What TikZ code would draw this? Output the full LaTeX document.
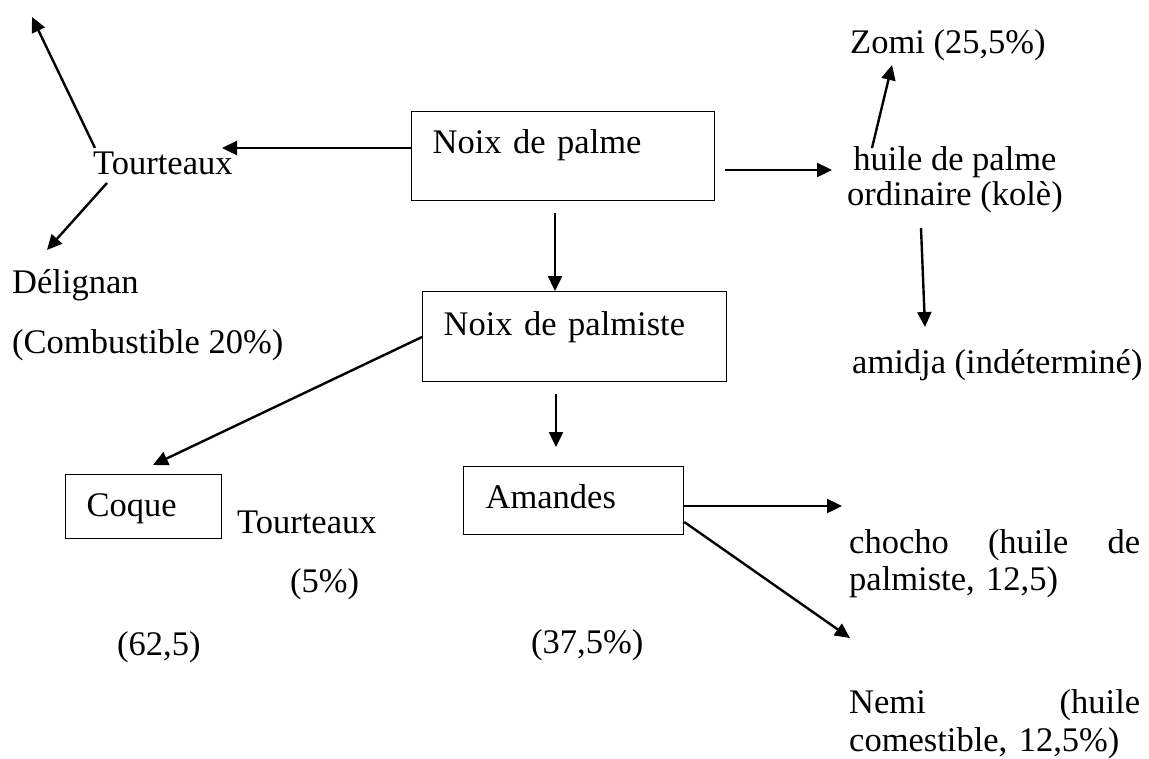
\documentclass[tikz,border=0pt]{standalone}
\usepackage{fontspec}
\setmainfont{Liberation Serif}
\usetikzlibrary{arrows.meta,calc}
\begin{document}
\begin{tikzpicture}[x=1pt,y=-1pt,
  every node/.style={font=\fontsize{34.5}{37}\selectfont},
  txt/.style={inner sep=0pt, anchor=base west},
  boxn/.style={draw, line width=1.3pt, inner ysep=0pt, align=left, anchor=north west},
  arr/.style={line width=2.4pt, -{Triangle[length=15pt,width=14pt]}}]
\useasboundingbox (0,0) rectangle (1149,758);
% boxes
\node[boxn, inner xsep=21pt, text width=261pt, text height=42pt, text depth=47pt] (np) at (411,111) {Noix de palme};
\node[boxn, inner xsep=21pt, text width=262pt, text height=44pt, text depth=46pt] (pm) at (422,291) {Noix de palmiste};
\node[boxn, inner xsep=21pt, text width=114pt, text height=42pt, text depth=22pt] (cq) at (65,474) {Coque};
\node[boxn, inner xsep=22pt, text width=176pt, text height=42pt, text depth=26pt] (am) at (463,466) {Amandes};
% texts
\node[txt] (t1) at (93,174) {Tourteaux};
\node[txt] (del) at (12,293) {Délignan};
\node[txt] (comb) at (12,353) {(Combustible 20\%)};
\node[txt] (zomi) at (850,53) {Zomi (25,5\%)};
\node[inner sep=0pt, anchor=base, align=center, font=\fontsize{34.5}{35}\selectfont] (huile) at (955,205) {huile de palme\\ordinaire (kolè)};
\node[txt] (amidja) at (852,373) {amidja (indéterminé)};
\node[txt] (t2) at (237,533) {Tourteaux};
\node[txt] (p5) at (290,592) {(5\%)};
\node[txt] (p625) at (117,655) {(62,5)};
\node[txt] (p375) at (531,653) {(37,5\%)};
\node[txt, align=left, text width=292pt, font=\fontsize{34.5}{37}\selectfont] (chocho) at (849,553) {\hbox to 291pt{chocho\hfill(huile\hfill de}\\palmiste, 12,5)};
\node[txt, align=left, text width=292pt, font=\fontsize{34.5}{38}\selectfont] (nemi) at (849,713) {\hbox to 291pt{Nemi\hfill(huile}\\comestible, 12,5\%)};
\coordinate (up) at (32,17);
% connectors
\draw[arr] ($(np.north west)+(0,37)$) -- ($(t1.base west)+(129,-26)$);
\draw[arr] ($(t1.base west)+(2,-26)$) -- (up);
\draw[arr] ($(t1.base west)+(14,9)$) -- ($(del.base west)+(35,-43)$);
\draw[arr] ($(np.south west)+(144,12)$) -- ($(pm.north west)+(133,0)$);
\draw[arr] ($(np.north east)+(10,59)$) -- ($(huile.base)+(-123,-35)$);
\draw[arr] ($(huile.base)+(-83,-57)$) -- ($(zomi.base west)+(42,12)$);
\draw[arr] ($(huile.base)+(-34,23)$) -- ($(amidja.base west)+(73,-46)$);
\draw[arr] ($(pm.north west)+(0,46)$) -- ($(cq.north west)+(88,-9)$);
\draw[arr] ($(pm.south west)+(134,12)$) -- ($(am.north west)+(93,-19)$);
\draw[arr] ($(am.north east)+(0,40)$) -- ($(chocho.base west)+(-7,-47)$);
\draw[arr] ($(am.north east)+(0,56)$) -- ($(nemi.base west)+(1,-75)$);
\end{tikzpicture}
\end{document}
